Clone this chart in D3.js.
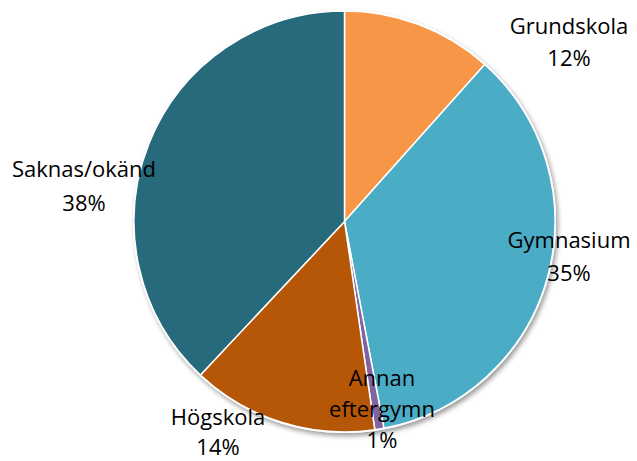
<!DOCTYPE html>
<html>
<head>
<meta charset="utf-8">
<script src="https://cdn.jsdelivr.net/npm/d3@7"></script>
<style>
  body { margin: 0; background: #fff; }
  svg text { font-family: "Open Sans", "Noto Sans", sans-serif; fill: #000; }
</style>
</head>
<body>
<div id="chart"></div>
<script>
const width = 637;
const height = 461;

const categories = ["Grundskola", "Gymnasium", "Annan eftergymn", "Högskola", "Saknas/okänd"];
const values = [11.6, 35.4, 0.7, 14.3, 38.0];
const percentLabels = ["12%", "35%", "1%", "14%", "38%"];
const nameLines = [["Grundskola"], ["Gymnasium"], ["Annan", "eftergymn"], ["Högskola"], ["Saknas/okänd"]];
const colors = ["#F79646", "#4BACC6", "#8064A2", "#B65708", "#276A7C"];

// label anchor (centre x, first baseline, line step) per slice
const labelPos = [
  { x: 569, y: 34, step: 32 },
  { x: 569, y: 248, step: 33 },
  { x: 382, y: 386, step: 31 },
  { x: 218, y: 425, step: 30 },
  { x: 84, y: 177, step: 34 }
];

const cx = 344.5, cy = 221.5, r = 210.5;

const svg = d3.select("#chart")
  .append("svg")
  .attr("width", width)
  .attr("height", height);

const defs = svg.append("defs");
const shadow = defs.append("filter")
  .attr("id", "shadow")
  .attr("x", "-20%").attr("y", "-20%")
  .attr("width", "140%").attr("height", "140%");
shadow.append("feGaussianBlur").attr("in", "SourceAlpha").attr("stdDeviation", 2.5);
shadow.append("feOffset").attr("dx", 2).attr("dy", 3).attr("result", "off");
shadow.append("feComponentTransfer").append("feFuncA").attr("type", "linear").attr("slope", 0.4);
const merge = shadow.append("feMerge");
merge.append("feMergeNode");
merge.append("feMergeNode").attr("in", "SourceGraphic");

const data = categories.map((c, i) => ({ name: c, value: values[i], i }));

const pie = d3.pie()
  .sort(null)
  .value(d => d.value);

const arc = d3.arc()
  .innerRadius(0)
  .outerRadius(r);

const g = svg.append("g")
  .attr("transform", `translate(${cx}, ${cy})`);

g.append("circle")
  .attr("r", r + 1)
  .attr("fill", "#fff")
  .attr("filter", "url(#shadow)");

g.selectAll("path")
  .data(pie(data))
  .join("path")
  .attr("d", arc)
  .attr("fill", d => colors[d.data.i])
  .attr("stroke", "#fff")
  .attr("stroke-width", 1.5)
  .attr("stroke-linejoin", "round");

const labels = svg.selectAll(".label")
  .data(data)
  .join("text")
  .attr("class", "label")
  .attr("text-anchor", "middle")
  .attr("font-size", 22);

labels.each(function(d) {
  const t = d3.select(this);
  const p = labelPos[d.i];
  const lines = [...nameLines[d.i], percentLabels[d.i]];
  lines.forEach((line, k) => {
    t.append("tspan")
      .attr("x", p.x)
      .attr("y", p.y + k * p.step)
      .text(line);
  });
});
</script>
</body>
</html>
